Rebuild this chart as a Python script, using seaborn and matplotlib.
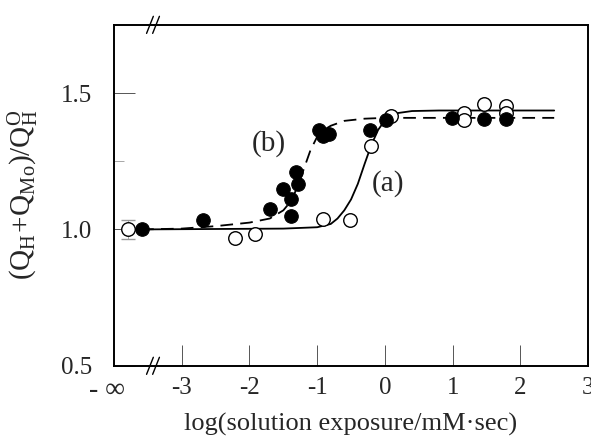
import numpy as np
import pandas as pd
import seaborn as sns
import matplotlib
matplotlib.use('Agg')
import matplotlib.pyplot as plt
import matplotlib.transforms as mtransforms

# open circles, series (a)
a_x = [-3.8, -2.21, -1.92, -0.91, -0.51, -0.21, 0.09, 1.17, 1.17, 1.47, 1.79, 1.79]
a_y = [1.00, 0.97, 0.984, 1.04, 1.035, 1.305, 1.415, 1.427, 1.40, 1.458, 1.454, 1.427]
# filled circles, series (b)
b_x = [-3.59, -2.69, -1.69, -1.50, -1.38, -1.39, -1.28, -1.31, -0.97, -0.92, -0.82,
       -0.22, 0.01, 0.99, 1.47, 1.79]
b_y = [1.00, 1.035, 1.076, 1.149, 1.113, 1.051, 1.167, 1.21, 1.365, 1.344, 1.35,
       1.363, 1.40, 1.408, 1.405, 1.405]
# fitted curves
fa_x = [-3.6, -1.5, -1.0, -0.8, -0.7, -0.6, -0.5, -0.4, -0.3, -0.2, -0.1, 0.0, 0.1, 0.2, 0.4, 0.8, 2.5]
fa_y = [1.0, 1.003, 1.008, 1.02, 1.04, 1.07, 1.11, 1.167, 1.24, 1.31, 1.365, 1.40, 1.418, 1.427,
        1.434, 1.436, 1.436]
fb_x = [-3.6, -3.0, -2.5, -2.0, -1.7, -1.5, -1.4, -1.3, -1.2, -1.1, -1.0, -0.9, -0.8, -0.6, -0.3, 0.0, 2.5]
fb_y = [1.0, 1.003, 1.012, 1.025, 1.04, 1.07, 1.10, 1.15, 1.22, 1.29, 1.34, 1.365, 1.38, 1.398,
        1.406, 1.409, 1.409]
err_x, err_y, err_e = -3.8, 1.0, 0.035

xticks = [-3, -2, -1, 0, 1, 2, 3]
yticks = [0.5, 1.0, 1.5]

sns.set_theme(style='white')
plt.rcParams['font.family'] = ['Liberation Serif', 'DejaVu Serif']
plt.rcParams['mathtext.fontset'] = 'custom'
plt.rcParams['mathtext.rm'] = 'Liberation Serif'

fig = plt.figure(figsize=(5.91, 4.36), dpi=100)
ax = fig.add_axes([0.193, 0.161, 0.802, 0.782])

sns.lineplot(x=fa_x, y=fa_y, ax=ax, color='black', lw=1.3, estimator=None, sort=False)
sns.lineplot(x=fb_x, y=fb_y, ax=ax, color='black', lw=1.3, estimator=None, sort=False)
ax.lines[-1].set_dashes([7, 4])
ax.errorbar([err_x], [err_y], yerr=[err_e], fmt='none', ecolor='#999999', capsize=5, lw=0.6)
sns.scatterplot(x=a_x, y=a_y, ax=ax, s=95, facecolor='white', edgecolor='black', linewidth=1.0, zorder=3)
sns.scatterplot(x=b_x, y=b_y, ax=ax, s=95, color='black', edgecolor='black', zorder=4)

ax.set_xlim(-4, 3)
ax.set_ylim(0.5, 1.75)
ax.set_xticks(xticks)
ax.set_xticklabels([str(t) for t in xticks])
ax.set_yticks(yticks)
ax.set_yticklabels(['0.5', '1.0', '1.5'])
ax.set_yticks([1.25], minor=True)
ax.tick_params(axis='both', which='major', direction='in', length=15, width=0.7,
               labelsize=18, color='#555555')
ax.tick_params(axis='x', which='major', pad=8)
ax.tick_params(axis='y', which='major', pad=16)
ax.tick_params(axis='y', which='minor', direction='in', length=7, width=0.6, color='#999999', left=True)
ax.tick_params(axis='x', bottom=True)
ax.tick_params(axis='y', left=True)
for s in ax.spines.values():
    s.set_color('black')
    s.set_linewidth(1.4)

trans = mtransforms.blended_transform_factory(ax.transData, ax.transAxes)
ax.text(-4.1, -0.035, '- \u221e', transform=trans, ha='center', va='top', fontsize=20)

# axis break marks
for yb in (0.0, 1.0):
    for dx in (-3.47, -3.38):
        ax.plot([dx - 0.05, dx + 0.05], [yb - 0.025, yb + 0.025], transform=trans,
                color='black', lw=1.0, clip_on=False)
    ax.plot([-3.45, -3.40], [yb, yb], transform=trans, color='white', lw=2.5, clip_on=False, zorder=0)

ax.text(-1.72, 1.315, '(b)', fontsize=21, ha='center', va='center')
ax.text(0.04, 1.17, '(a)', fontsize=21, ha='center', va='center')

ax.set_xlabel('log(solution exposure/mM\u00b7sec)', fontsize=19, labelpad=10)
ax.set_ylabel(r'$(\mathrm{Q_H}\!+\!\mathrm{Q_{Mo}})/\mathrm{Q_H^O}$', fontsize=21, labelpad=14)

fig.savefig('out.png', dpi=100)
